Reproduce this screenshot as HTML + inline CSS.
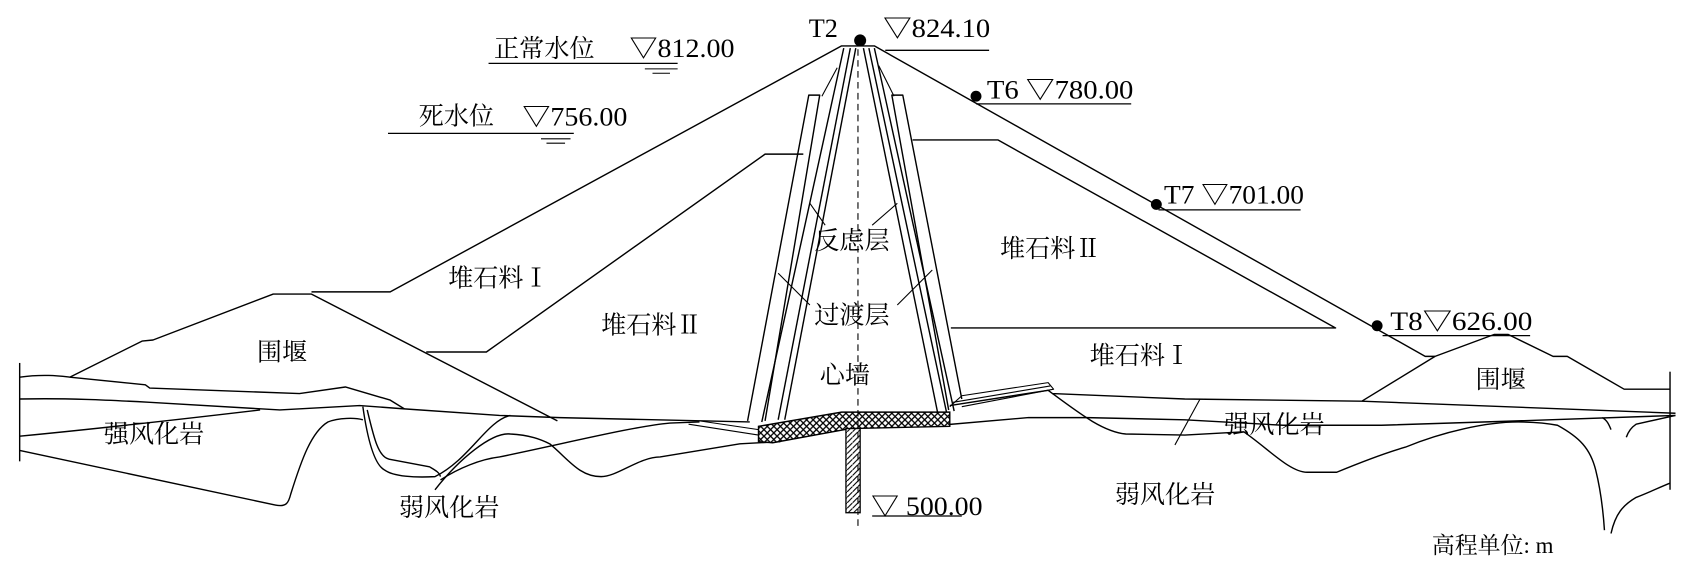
<!DOCTYPE html>
<html><head><meta charset="utf-8"><style>
html,body{margin:0;padding:0;background:#fff}
svg{display:block}
text{font-family:"Liberation Serif","Noto Serif CJK SC",serif;fill:#000}
</style></head><body>
<svg width="1705" height="563" viewBox="0 0 1560 515" preserveAspectRatio="none" xmlns="http://www.w3.org/2000/svg">
<defs>
<pattern id="xh" width="6" height="6" patternUnits="userSpaceOnUse">
<rect width="6" height="6" fill="#fff"/>
<path d="M0 0L6 6M6 0L0 6" stroke="#000" stroke-width="1.2"/>
</pattern>
<pattern id="dh" width="5" height="5" patternUnits="userSpaceOnUse">
<rect width="5" height="5" fill="#fff"/>
<path d="M0 5L5 0" stroke="#000" stroke-width="1"/>
</pattern>
</defs>
<g fill="none" stroke="#000" stroke-width="1.3" stroke-linejoin="round">
<polyline points="285,267 357,267 770,42 800,42 1304,326 1313,326 1367,306 1380,306 1421,326 1434,326 1486,356 1528,356"/>
<polyline points="1313,326 1246,367"/>
<polyline points="64,345 130,312 140,311 250,269 285,269 510,385"/>
<polyline points="390,322 445,322 700,141 735,141"/>
<polyline points="835,128 913,128 1222,300 870,300"/>
<polyline points="684,385 740,87 750,87 700,385"/>
<polyline points="880,365 826,87 816,87 868,375"/>
<line x1="772" y1="44" x2="697" y2="386"/>
<line x1="778" y1="44" x2="712" y2="384"/>
<line x1="783" y1="44" x2="718" y2="384"/>
<line x1="790" y1="44" x2="858" y2="378"/>
<line x1="795" y1="44" x2="866" y2="377"/>
<line x1="800" y1="44" x2="873" y2="376"/>
<line x1="766" y1="62" x2="752" y2="88" stroke-width="1"/>
<line x1="804" y1="60" x2="818" y2="88" stroke-width="1"/>
<line x1="741" y1="186" x2="755" y2="206" stroke-width="1"/>
<line x1="821" y1="186" x2="798" y2="206" stroke-width="1"/>
<line x1="712" y1="250" x2="741" y2="279" stroke-width="1"/>
<line x1="853" y1="247" x2="821" y2="279" stroke-width="1"/>
<polyline points="869,372 880,362 959,350 964,356 880,372" stroke-width="1"/>
<polyline points="872,368 961,353" stroke-width="1"/>
<polyline points="640,385 694,393" stroke-width="1"/>
<polyline points="630,388 694,398" stroke-width="1"/>
<path d="M18,345 C40,342 55,344 64,345 L133,352 137,355 274,360 316,354 357,366 370,374"/>
<path d="M18,365 C60,364 100,366 137,368 L256,375 329,371 370,374 457,380 512,382 686,386"/>
<path d="M18,399 C80,393 170,383 238,375"/>
<path d="M18,412 L252,462 C262,464 264,460 266,452 C276,420 285,395 300,386 C310,382 325,382 332,384"/>
<path d="M332,372 C336,400 342,425 352,430 C360,436 380,437 398,436 C430,420 445,385 467,380"/>
<path d="M336,375 C342,400 346,418 356,420 L393,427 C398,430 402,432 403,436"/>
<path d="M398,448 C420,420 450,395 467,397 C485,398 495,402 503,406 C520,420 530,436 550,436 C565,436 585,418 604,418 L677,406 714,404"/>
<path d="M403,439 C420,428 440,420 457,418 C520,405 580,390 613,387 L640,386"/>
<path d="M869,371 L959,357 963,360 1084,365 1246,367 1533,378"/>
<path d="M860,389 L941,382 995,382 1084,384 1174,389 1264,389 1389,385 1533,380"/>
<path d="M963,360 C990,380 1010,395 1030,397 L1084,398 1138,395 C1160,410 1180,432 1196,432 L1223,432 C1240,425 1265,415 1286,409 C1320,395 1360,386 1389,386 C1410,386 1420,388 1425,389 C1445,400 1455,410 1460,430 C1465,450 1467,470 1468,485"/>
<path d="M1474,488 C1478,470 1485,462 1497,455 C1510,450 1520,445 1528,442"/>
<path d="M1474,393 C1472,388 1470,384 1466,382"/>
<path d="M1488,400 C1490,394 1494,390 1497,388 L1533,380"/>
<line x1="1075" y1="407" x2="1098" y2="365" stroke-width="1"/>
<line x1="18" y1="332" x2="18" y2="422"/>
<line x1="1528" y1="340" x2="1528" y2="448"/>
<line x1="447" y1="58" x2="620" y2="58" stroke-width="1.2"/>
<line x1="590" y1="63" x2="620" y2="63" stroke-width="1"/>
<line x1="597" y1="67" x2="613" y2="67" stroke-width="1"/>
<line x1="355" y1="122" x2="525" y2="122" stroke-width="1.2"/>
<line x1="495" y1="127" x2="522" y2="127" stroke-width="1"/>
<line x1="500" y1="131" x2="517" y2="131" stroke-width="1"/>
<line x1="810" y1="46" x2="905" y2="46" stroke-width="1.2"/>
<line x1="893" y1="95" x2="1035" y2="95" stroke-width="1.2"/>
<line x1="1060" y1="192" x2="1190" y2="192" stroke-width="1.2"/>
<line x1="1265" y1="307" x2="1400" y2="307" stroke-width="1.2"/>
<line x1="798" y1="472" x2="880" y2="472" stroke-width="1.2"/>
</g>
<polygon points="694,390 770,377 869,377 869,390 778,392 707,405 694,404" fill="url(#xh)" stroke="#000" stroke-width="1.3"/>
<rect x="774" y="392" width="13" height="77" fill="url(#dh)" stroke="#000" stroke-width="1.2"/>
<line x1="785" y1="45" x2="785" y2="482" stroke="#000" stroke-width="1" stroke-dasharray="6,4"/>
<circle cx="787" cy="37" r="5.5"/>
<circle cx="893" cy="88" r="5"/>
<circle cx="1058" cy="187" r="5"/>
<circle cx="1260" cy="298" r="5"/>
<g font-size="23">
<text x="452" y="52">正常水位</text>
<text x="576" y="52" font-size="24" textLength="96" lengthAdjust="spacingAndGlyphs">▽812.00</text>
<text x="383" y="114">死水位</text>
<text x="478" y="115" font-size="24" textLength="96" lengthAdjust="spacingAndGlyphs">▽756.00</text>
<text x="740" y="34" font-size="24">T2</text>
<text x="808" y="34" font-size="24" textLength="98" lengthAdjust="spacingAndGlyphs">▽824.10</text>
<text x="903" y="90" font-size="24" textLength="134" lengthAdjust="spacingAndGlyphs">T6 ▽780.00</text>
<text x="1065" y="186" font-size="24" textLength="128" lengthAdjust="spacingAndGlyphs">T7 ▽701.00</text>
<text x="1272" y="302" font-size="24" textLength="130" lengthAdjust="spacingAndGlyphs">T8▽626.00</text>
<text x="410" y="262">堆石料Ⅰ</text>
<text x="550" y="305">堆石料Ⅱ</text>
<text x="235" y="330">围堰</text>
<text x="745" y="228">反虑层</text>
<text x="745" y="296">过渡层</text>
<text x="750" y="351">心墙</text>
<text x="915" y="235">堆石料Ⅱ</text>
<text x="997" y="333">堆石料Ⅰ</text>
<text x="1350" y="355">围堰</text>
<text x="95" y="405">强风化岩</text>
<text x="1120" y="396">强风化岩</text>
<text x="365" y="472">弱风化岩</text>
<text x="1020" y="460">弱风化岩</text>
<text x="797" y="471" font-size="24" textLength="102" lengthAdjust="spacingAndGlyphs">▽ 500.00</text>
<text x="1310" y="506" font-size="21">高程单位: m</text>
</g>
</svg>
</body></html>
